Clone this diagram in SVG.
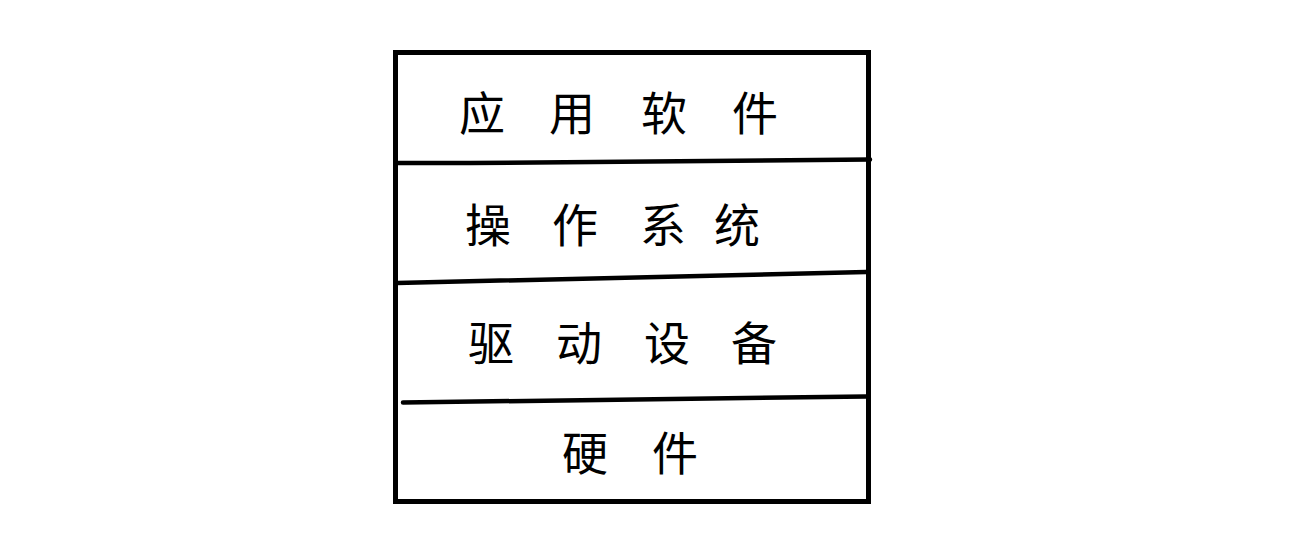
<svg xmlns="http://www.w3.org/2000/svg" width="1307" height="549" viewBox="0 0 1307 549">
<style>
.frame{fill:none;stroke:#000;stroke-width:5}
.div{stroke:#000;stroke-width:4.5;stroke-linecap:round;fill:none}
.lbl{font-family:"Noto Sans CJK SC","Noto Sans",sans-serif;font-size:46px;fill:#000;text-anchor:middle}
</style>
<rect x="0" y="0" width="1307" height="549" fill="#fff"/>
<g id="frame"><rect class="frame" x="395.5" y="52.5" width="473" height="449"/></g>
<g id="connectors">
<polyline class="div" points="396,163 470,163 870,159.5"/>
<polyline class="div" points="397,283 866,272"/>
<polyline class="div" points="403,402.5 866,396.5"/>
</g>
<g id="layer-app"><text class="lbl" x="482 572 664 755" y="130">应用软件</text></g>
<g id="layer-os"><text class="lbl" x="488 575 663 737" y="242">操作系统</text></g>
<g id="layer-driver"><text class="lbl" x="491 579 667 754" y="360">驱动设备</text></g>
<g id="layer-hw"><text class="lbl" x="585 675" y="470">硬件</text></g>
</svg>
